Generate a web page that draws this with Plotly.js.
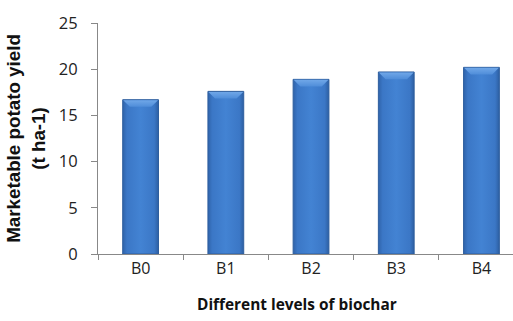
<!DOCTYPE html>
<html>
<head>
<meta charset="utf-8">
<script src="https://cdn.plot.ly/plotly-3.0.1.min.js"></script>
<style>
  html, body { margin: 0; padding: 0; background: #ffffff; }
  #chart { width: 513px; height: 321px; }
</style>
</head>
<body>
<div id="chart"></div>
<script>
// Marketable potato yield by biochar level
const levels = ["B0", "B1", "B2", "B3", "B4"];
const yieldValues = [16.7, 17.6, 18.9, 19.7, 20.2];
const yTicks = [0, 5, 10, 15, 20, 25];

const axisGrey = "#888888";

const trace = {
  type: "bar",
  x: levels,
  y: yieldValues,
  width: 0.42,
  marker: {
    color: "#3b76c4",
    line: { color: "#2e5e9e", width: 1 }
  },
  hoverinfo: "x+y"
};

const layout = {
  width: 513,
  height: 321,
  margin: { l: 98, r: 0, t: 23, b: 67, pad: 0 },
  paper_bgcolor: "#ffffff",
  plot_bgcolor: "#ffffff",
  showlegend: false,
  font: { family: "'Open Sans', sans-serif", size: 16, color: "#222222" },
  xaxis: {
    type: "category",
    range: [-0.5, 4.37],
    showline: true,
    linecolor: axisGrey,
    linewidth: 1,
    ticks: "outside",
    tickson: "boundaries",
    ticklen: 5,
    tickcolor: axisGrey,
    showgrid: false,
    zeroline: false,
    tickfont: { family: "'Open Sans', sans-serif", size: 16, color: "#222222" }
  },
  yaxis: {
    range: [0, 25],
    tickvals: yTicks,
    showline: true,
    linecolor: axisGrey,
    linewidth: 1,
    ticks: "outside",
    ticklen: 6,
    tickcolor: axisGrey,
    showgrid: false,
    zeroline: false,
    ticklabelstandoff: 10,
    tickfont: { family: "'Open Sans', sans-serif", size: 16.5, color: "#222222" },
    title: {
      text: "Marketable potato yield<br>(t ha-1)",
      font: { family: "Liberation Sans, Arial, sans-serif", size: 18.8, color: "#111111", weight: "bold" },
      standoff: 8
    }
  },
  annotations: [{
    text: "Different levels of biochar",
    xref: "paper", yref: "paper",
    x: 0.48, y: -0.22,
    xanchor: "center", yanchor: "middle",
    showarrow: false,
    font: { family: "'Open Sans', sans-serif", size: 15.4, color: "#111111", weight: "bold" }
  }]
};

Plotly.newPlot("chart", [trace], layout, { displayModeBar: false, staticPlot: true }).then(function (gd) {
  // Shade the bars with a horizontal gradient and a lighter bevelled top
  const svgNS = "http://www.w3.org/2000/svg";
  const svg = gd.querySelector("svg.main-svg");
  let defs = svg.querySelector("defs");
  if (!defs) { defs = document.createElementNS(svgNS, "defs"); svg.insertBefore(defs, svg.firstChild); }

  function makeGradient(id, stops, vertical) {
    const g = document.createElementNS(svgNS, "linearGradient");
    g.setAttribute("id", id);
    g.setAttribute("x1", "0"); g.setAttribute("y1", "0");
    g.setAttribute("x2", vertical ? "0" : "1"); g.setAttribute("y2", vertical ? "1" : "0");
    stops.forEach(function (s) {
      const st = document.createElementNS(svgNS, "stop");
      st.setAttribute("offset", s[0]);
      st.setAttribute("stop-color", s[1]);
      g.appendChild(st);
    });
    defs.appendChild(g);
  }
  makeGradient("barBody", [["0", "#2f63aa"], ["0.12", "#3b77c6"], ["0.5", "#4383d3"], ["0.88", "#3b77c6"], ["1", "#2d5fa2"]], false);
  makeGradient("barTop", [["0", "#70a7e8"], ["1", "#4f8dd9"]], true);

  gd.querySelectorAll(".trace.bars .point path").forEach(function (p) {
    p.style.fill = "url(#barBody)";
    const b = p.getBBox();
    const inset = Math.min(8, b.width * 0.2);
    const poly = document.createElementNS(svgNS, "polygon");
    poly.setAttribute("points", [
      b.x + 0.5, b.y + 0.5,
      b.x + b.width - 0.5, b.y + 0.5,
      b.x + b.width - inset, b.y + inset,
      b.x + inset, b.y + inset
    ].join(" "));
    poly.setAttribute("fill", "url(#barTop)");
    p.parentNode.appendChild(poly);
  });
});
</script>
</body>
</html>
